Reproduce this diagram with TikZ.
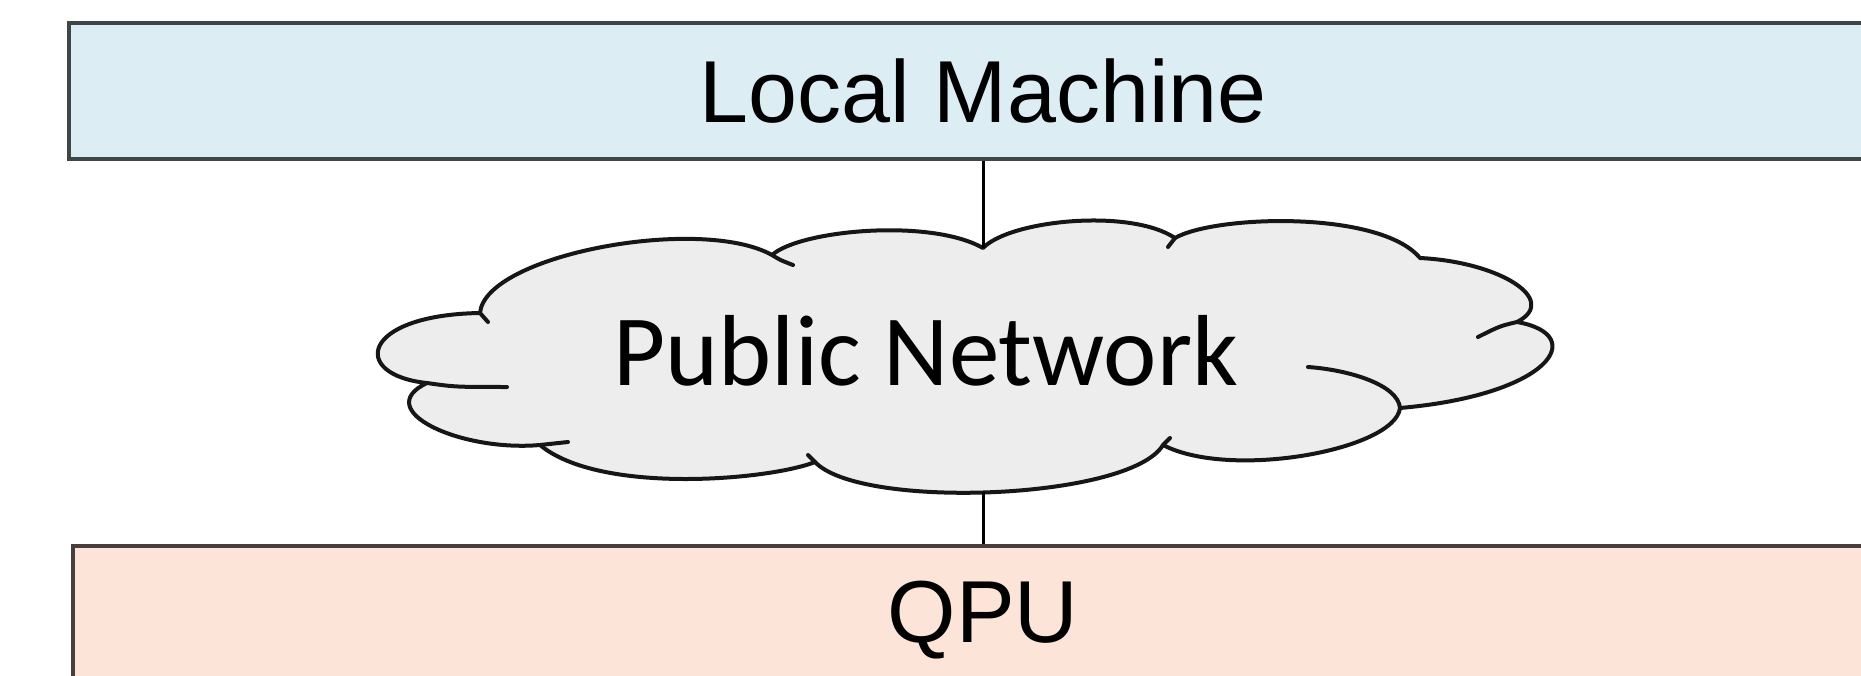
\documentclass[tikz,border=0pt]{standalone}
\usepackage{fontspec}
\setmainfont{Liberation Sans}
\newfontfamily\cloudfont{Carlito}
\definecolor{topfill}{RGB}{220,237,244}
\definecolor{topline}{RGB}{62,70,72}
\definecolor{botfill}{RGB}{252,228,216}
\definecolor{botline}{RGB}{72,62,60}
\definecolor{cloudfill}{RGB}{237,237,237}
\definecolor{cloudline}{RGB}{22,22,22}
\begin{document}
\begin{tikzpicture}[x=1pt,y=-1pt,
  layerbox/.style={line width=4pt, inner sep=0pt, text depth=0pt,
    font=\fontsize{88}{100}\selectfont},
  localbox/.style={layerbox, draw=topline, fill=topfill, minimum width=1828pt, minimum height=136pt},
  qpubox/.style={layerbox, draw=botline, fill=botfill, minimum width=1820pt, minimum height=132pt},
  cloudshape/.style={draw=cloudline, fill=cloudfill, line width=4pt, line join=round},
  cloudhook/.style={draw=cloudline, line width=4pt, line cap=round},
  cloudtext/.style={inner sep=0pt, text depth=0pt, font=\cloudfont\fontsize{101}{110}\selectfont},
  link/.style={draw=black, line width=3pt}]
\clip (0,0) rectangle (1861,676);
\fill[white] (0,0) rectangle (1861,676);

% layers
\node[localbox] (local) at (983,91) {Local Machine};
\node[qpubox] (qpu) at (983,612) {QPU};

% cloud outline
\path[cloudshape] (480,313)
  .. controls (485,255) and (700,215) .. (772,255)
  .. controls (800,230) and (930,218) .. (983,248)
  .. controls (1010,220) and (1130,208) .. (1175,238)
  .. controls (1215,215) and (1380,210) .. (1420,258)
  .. controls (1500,262) and (1560,300) .. (1517,322)
  .. controls (1590,335) and (1550,395) .. (1400,408)
  .. controls (1395,450) and (1230,480) .. (1163,445)
  .. controls (1130,500) and (860,510) .. (815,462)
  .. controls (770,480) and (600,495) .. (540,445)
  .. controls (460,452) and (370,410) .. (427,383)
  .. controls (350,375) and (360,315) .. (480,313)
  -- cycle;
% inner hooks of the cloud lobes
\path[cloudhook] (427,383) .. controls (455,387) .. (507,387);
\path[cloudhook] (540,445) -- (568,442);
\path[cloudhook] (1517,322) .. controls (1500,326) .. (1478,337);
\path[cloudhook] (1400,408) .. controls (1398,385) and (1350,370) .. (1308,367);
\path[cloudhook] (480,313) -- (488,322);
\path[cloudhook] (772,255) .. controls (780,260) .. (793,265);
\path[cloudhook] (1175,238) -- (1168,247);
\path[cloudhook] (815,462) -- (808,455);
\path[cloudhook] (1163,445) -- (1170,438);

\coordinate (ctop) at (983,248);
\coordinate (cbot) at (983,492);
\node[cloudtext] (cloud) at (926,350) {Public Network};

% connectors
\draw[link] (local.south) -- (ctop);
\draw[link] (cbot) -- (qpu.north);
\end{tikzpicture}
\end{document}
